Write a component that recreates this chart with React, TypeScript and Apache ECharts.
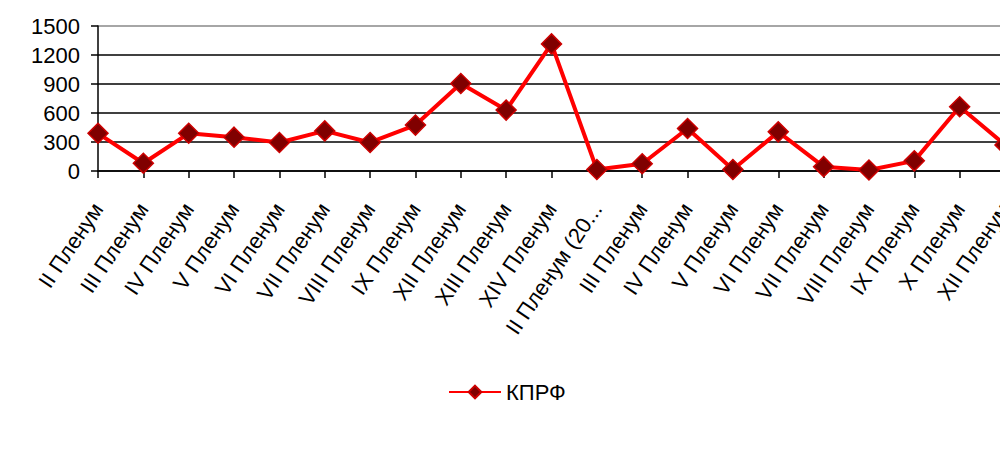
import React, { useEffect, useRef } from "react";
import * as echarts from "echarts";

const categories = [
  "II Пленум",
  "III Пленум",
  "IV Пленум",
  "V Пленум",
  "VI Пленум",
  "VII Пленум",
  "VIII Пленум",
  "IX Пленум",
  "XII Пленум",
  "XIII Пленум",
  "XIV Пленум",
  "II Пленум (20...",
  "III Пленум",
  "IV Пленум",
  "V Пленум",
  "VI Пленум",
  "VII Пленум",
  "VIII Пленум",
  "IX Пленум",
  "X Пленум",
  "XII Пленум",
];

const kprf = [390, 80, 390, 350, 295, 415, 295, 475, 905, 630, 1315, 15, 75, 440, 15, 405, 45, 10, 105, 665, 270];

const yTicks = [0, 300, 600, 900, 1200, 1500];

const font = "'Liberation Sans', Arial, sans-serif";

const App = () => {
  const chartRef = useRef<HTMLDivElement>(null);

  useEffect(() => {
    const myChart = echarts.init(chartRef.current!, null, { renderer: "svg" });
    const option = {
      animation: false,
      textStyle: { fontFamily: font },
      grid: { left: 98, top: 26, bottom: 279, right: 5, containLabel: false, outerBoundsMode: "none" },
      legend: {
        bottom: 42,
        left: 443,
        itemWidth: 52,
        itemHeight: 16,
        itemGap: 6,
        textStyle: { fontSize: 22, color: "#000", fontFamily: font },
        data: ["КПРФ"],
      },
      xAxis: {
        type: "category",
        data: categories,
        boundaryGap: false,
        axisLine: { lineStyle: { color: "#000", width: 1.5 } },
        axisTick: { show: true, length: 7, inside: false, lineStyle: { color: "#000", width: 1.5 }, alignWithLabel: true },
        axisLabel: {
          interval: 0,
          rotate: 56,
          margin: 34,
          fontSize: 22,
          color: "#000",
          fontFamily: font,
        },
      },
      yAxis: {
        type: "value",
        min: yTicks[0],
        max: yTicks[yTicks.length - 1],
        interval: 300,
        axisLine: { show: true, lineStyle: { color: "#000", width: 1.5 } },
        axisTick: { show: true, length: 7, lineStyle: { color: "#000", width: 1.5 } },
        axisLabel: {
          fontSize: 22,
          color: "#000",
          margin: 18,
          fontFamily: font,
          formatter: (v: number) => String(v),
        },
        splitLine: {
          lineStyle: { color: ["#000", "#000", "#000", "#000", "#000", "#888"], width: 1.5 },
        },
      },
      series: [
        {
          name: "КПРФ",
          type: "line",
          data: kprf,
          symbol: "diamond",
          symbolSize: 20,
          lineStyle: { color: "#ff0000", width: 4 },
          itemStyle: { color: "#800000", borderColor: "#cc0000", borderWidth: 1.5 },
        },
      ],
    };
    myChart.setOption(option);
    return () => {
      myChart.dispose();
    };
  }, []);

  return (
    <div style={{ position: "fixed", left: 0, top: 0, width: 1000, height: 450, overflow: "hidden", background: "#fff" }}>
      <div ref={chartRef} style={{ width: 1010, height: 450 }}></div>
    </div>
  );
};

export default App;
